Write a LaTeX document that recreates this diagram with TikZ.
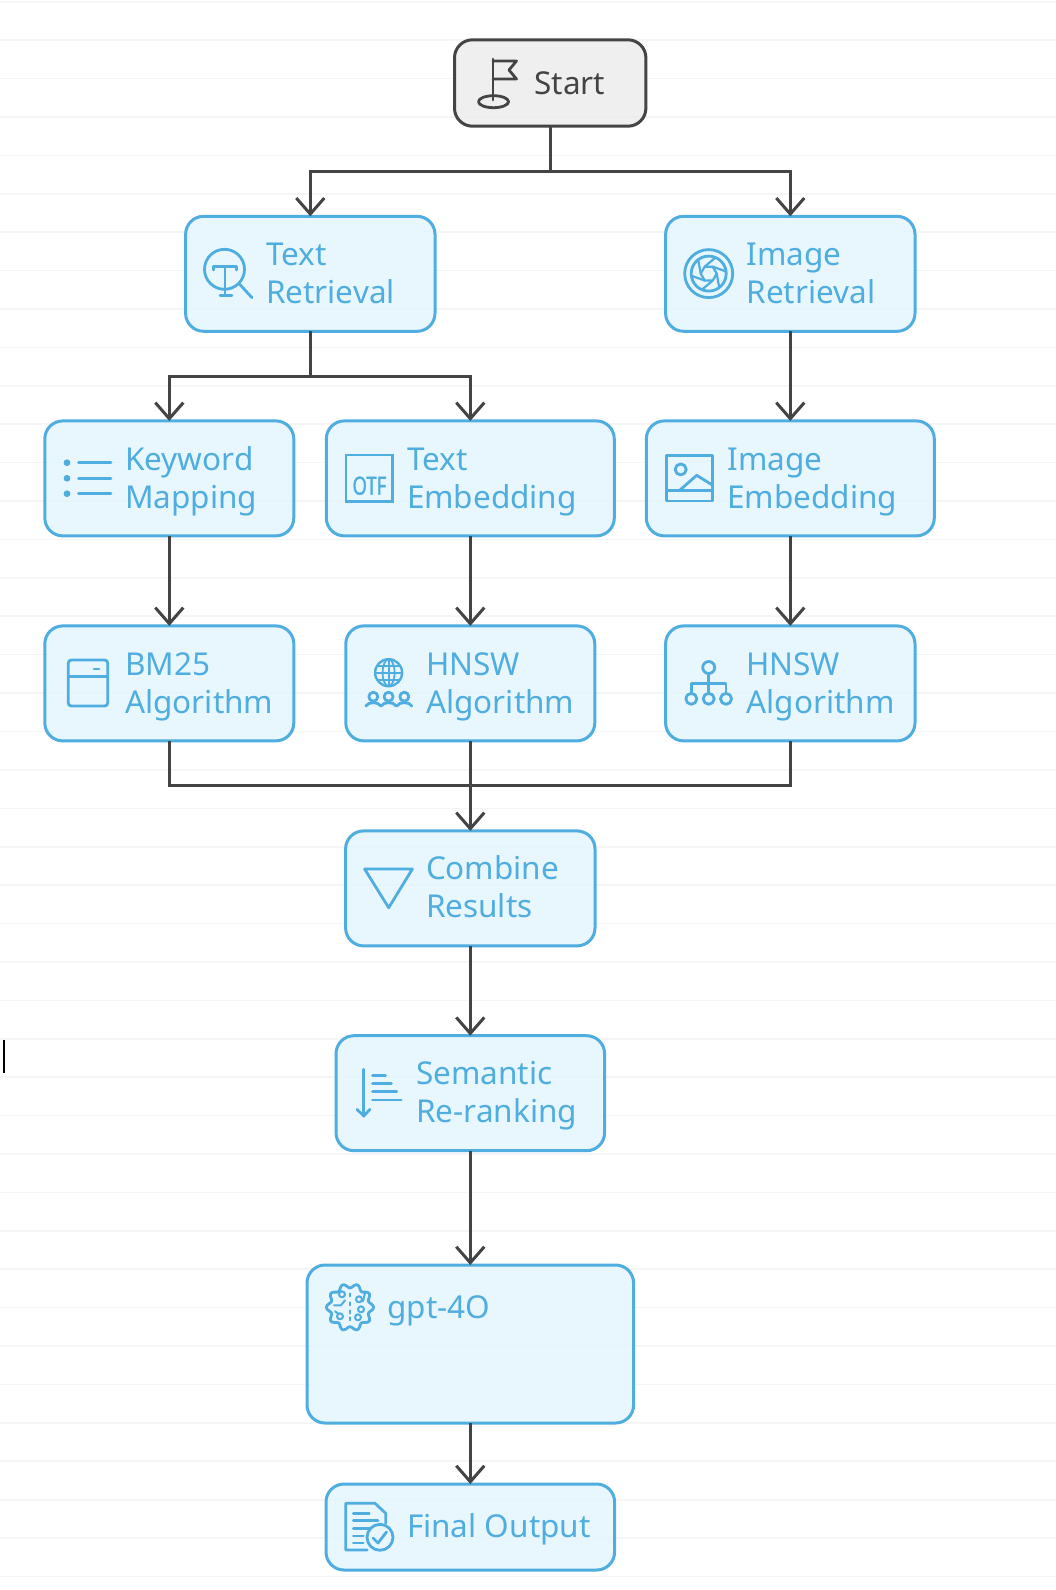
\documentclass[tikz,border=0pt]{standalone}
\usepackage{fontspec}
\setmainfont{Noto Sans}
\newfontfamily\otffont[FakeBold=1.6]{Noto Sans}
\usetikzlibrary{arrows.meta}
\definecolor{nodeblue}{HTML}{4FADE0}
\definecolor{nodefill}{HTML}{E5F6FD}
\definecolor{lineink}{HTML}{444444}
\definecolor{startfill}{HTML}{EDEDED}
\definecolor{ruleink}{HTML}{F5F5F5}
\newcommand{\twolines}[2]{\renewcommand{\arraystretch}{1}\begin{tabular}[t]{@{}l@{}}#1\\#2\end{tabular}}
\tikzset{
  box/.style={draw=nodeblue,line width=3pt,fill=nodefill,fill opacity=.88,rounded corners=18pt,inner sep=0pt,outer sep=0pt},
  startbox/.style={box,draw=lineink,fill=startfill},
  label/.style={anchor=base west,inner sep=0pt,outer sep=0pt,text=nodeblue,font=\fontsize{31.5}{38}\selectfont},
  startlabel/.style={label,text=lineink},
  plain/.style={draw=lineink,line width=3pt},
  arrowed/.style={plain,-{Straight Barb[length=16pt,width=28pt]}},
  icon/.style={draw=nodeblue,line width=2.8pt,line cap=round,line join=round},
  flagicon/.style={icon,draw=lineink},
  rule/.style={draw=ruleink,line width=1.6pt}
}
\begin{document}
\begin{tikzpicture}[x=1pt,y=-1pt]
\useasboundingbox (0,0) rectangle (1056,1590);
\fill[white] (0,0) rectangle (1056,1590);
\foreach \k in {0,...,41} \draw[rule] (0,{1.7+38.41*\k}) -- (1056,{1.7+38.41*\k});
\draw[black,line width=1.4pt] (4,1040) -- (4,1073);

% boxes
\node[startbox,minimum width=191.4pt,minimum height=86.4pt] (start) at (550.2,83) {};
\node[box,minimum width=249.4pt,minimum height=115pt] (tr) at (310.3,273.8) {};
\node[box,minimum width=249.4pt,minimum height=115pt] (ir) at (790.3,273.8) {};
\node[box,minimum width=249pt,minimum height=115pt] (km) at (169.3,478.4) {};
\node[box,minimum width=288pt,minimum height=115pt] (te) at (470.3,478.4) {};
\node[box,minimum width=288pt,minimum height=115pt] (ie) at (790.3,478.4) {};
\node[box,minimum width=249pt,minimum height=115pt] (bm) at (169.3,683.4) {};
\node[box,minimum width=249pt,minimum height=115pt] (hn) at (470.3,683.4) {};
\node[box,minimum width=249.4pt,minimum height=115pt] (hm) at (790.3,683.4) {};
\node[box,minimum width=249.4pt,minimum height=115pt] (cr) at (470.3,888.4) {};
\node[box,minimum width=268.6pt,minimum height=115pt] (sr) at (470.3,1093.2) {};
\node[box,minimum width=326.6pt,minimum height=158pt] (gp) at (470.3,1344) {};
\node[box,minimum width=288.6pt,minimum height=86pt] (fo) at (470.3,1527) {};

% labels
\node[startlabel] (startt) at (534.6,94.3) {Start};
\node[label] (trt) at (266,265.7) {\twolines{Text}{Retrieval}};
\node[label] (irt) at (746.4,265.7) {\twolines{Image}{Retrieval}};
\node[label] (kmt) at (125.2,470) {\twolines{Keyword}{Mapping}};
\node[label] (tet) at (407,470) {\twolines{Text}{Embedding}};
\node[label] (iet) at (727.4,470) {\twolines{Image}{Embedding}};
\node[label] (bmt) at (125.2,675) {\twolines{BM25}{Algorithm}};
\node[label] (hnt) at (426.2,675) {\twolines{HNSW}{Algorithm}};
\node[label] (hmt) at (746.4,675) {\twolines{HNSW}{Algorithm}};
\node[label] (crt) at (426,879.3) {\twolines{Combine}{Results}};
\node[label] (srt) at (416.2,1084.3) {\twolines{Semantic}{Re-ranking}};
\node[label] (gpt) at (387.6,1318.3) {gpt-4O};
\node[label] (fot) at (407,1537.3) {Final Output};

% connectors
\coordinate (j1) at (550.2,171);
\coordinate (j2) at (310.3,376.3);
\coordinate (j3) at (470.3,785.7);
\draw[plain] (start.south) -- (j1);
\draw[arrowed] (j1) -| (tr.north);
\draw[arrowed] (j1) -| (ir.north);
\draw[plain] (tr.south) -- (j2);
\draw[arrowed] (j2) -| (km.north);
\draw[arrowed] (j2) -| (te.north);
\draw[arrowed] (ir.south) -- (ie.north);
\draw[arrowed] (km.south) -- (bm.north);
\draw[arrowed] (te.south) -- (hn.north);
\draw[arrowed] (ie.south) -- (hm.north);
\draw[plain] (bm.south) |- (j3);
\draw[plain] (hn.south) -- (j3);
\draw[plain] (hm.south) |- (j3);
\draw[arrowed] (j3) -- (cr.north);
\draw[arrowed] (cr.south) -- (sr.north);
\draw[arrowed] (sr.south) -- (gp.north);
\draw[arrowed] (gp.south) -- (fo.north);

% flag
\draw[flagicon] (493,59) -- (493,100);
\draw[flagicon] (493,61) -- (516.5,61) -- (509,70) -- (516.5,79) -- (493,79);
\draw[flagicon] (493.5,101.7) ellipse (15pt and 6pt);
% search T
\draw[icon] (224.5,269.3) circle (20pt);
\draw[icon] (239.7,284.3) -- (252,297.7);
\draw[icon] (213.4,270) -- (213.4,266.7) -- (236.6,266.7) -- (236.6,270);
\draw[icon] (225,266.7) -- (225,295.7);
\draw[icon] (220,295.7) -- (232,295.7);
% aperture
\begin{scope}[shift={(708.7,273.6)}]
\draw[icon] (0,0) circle (24pt);
\draw[icon] (0,0) circle (17.5pt);
\foreach \a in {0,60,...,300} \draw[icon,line width=2.2pt] (\a:8) -- ({\a+60}:8) -- ({\a+60+53}:17.5);
\end{scope}
% list
\foreach \yy in {462.7,478.3,493.7} {
  \fill[nodeblue] (67,\yy) circle (3.4pt);
  \draw[icon] (78.6,\yy) -- (111,\yy);
}
% OTF
\draw[icon,line join=miter] (346,455) rectangle (392.8,501.7);
\node[inner sep=0pt,text=nodeblue,font=\fontsize{25}{25}\selectfont\otffont] (otf) at (369.4,485.7) {\scalebox{.74}[1]{OTF}};
% picture
\draw[icon] (666.7,455.3) rectangle (712.3,501);
\draw[icon] (680.7,469.4) circle (5.5pt);
\draw[icon] (666.7,490.4) -- (712.3,490.4);
\draw[icon] (680,490) -- (696.7,475.3) -- (712,484.8);
% drawer
\draw[icon,rounded corners=3pt] (68.3,660) rectangle (107.7,706);
\draw[icon] (68.3,676.7) -- (107.7,676.7);
\draw[icon] (94,669) -- (99,669);
% globe and people
\begin{scope}[shift={(388.6,672.7)}]
\draw[icon,line width=2.4pt] (0,0) circle (13.5pt);
\draw[icon,line width=1.8pt] (0,0) ellipse (6pt and 13.5pt);
\draw[icon,line width=1.8pt] (0,-13.5) -- (0,13.5);
\draw[icon,line width=1.8pt] (-13.5,0) -- (13.5,0);
\draw[icon,line width=1.8pt] (-11.5,-7) -- (11.5,-7);
\draw[icon,line width=1.8pt] (-11.5,7) -- (11.5,7);
\end{scope}
\foreach \xx in {373.3,388.6,404.3} {
  \draw[icon] (\xx,696.7) circle (4.5pt);
  \draw[icon] (\xx-7.5,706) .. controls (\xx-5,701.5) and (\xx+5,701.5) .. (\xx+7.5,706);
}
% hierarchy
\draw[icon] (708.7,667.5) circle (6pt);
\draw[icon] (708.7,673.5) -- (708.7,693);
\draw[icon] (691.3,693) -- (691.3,683.3) -- (726,683.3) -- (726,693);
\foreach \xx in {691.3,708.7,726} \draw[icon] (\xx,698.8) circle (5.5pt);
% triangle
\draw[icon] (364.6,869) -- (412.4,869) -- (388.7,907.7) -- cycle;
% sort
\draw[icon] (363.8,1069.3) -- (363.8,1116);
\draw[icon] (357,1109.3) -- (363.8,1116) -- (370,1109.3);
\draw[icon] (372.5,1075.7) -- (385.5,1075.7);
\draw[icon] (372.5,1083.7) -- (391.5,1083.7);
\draw[icon] (372.5,1091.7) -- (396.6,1091.7);
\draw[icon] (372.5,1100) -- (401.3,1100);
% brain
\begin{scope}[shift={(350,1307.3)}]
\draw[icon] plot[domain=0:355,samples=72,smooth cycle] (\x:{21.5+2.2*cos(10*\x)});
\foreach \p/\q in {-8/-13,9/-8,11/2,-10/9,8/10} \draw[icon,line width=2pt] (\p,\q) circle (3pt);
\draw[icon,line width=2pt] (-16,-2) -- (-9,-2) -- (-5,-7);
\draw[icon,line width=2pt] (0,-14) -- (0,-11);
\draw[icon,line width=2pt] (0,-5) -- (0,-2);
\draw[icon,line width=2pt] (0,3) -- (0,6);
\draw[icon,line width=2pt] (0,10) -- (0,13);
\draw[icon,line width=2pt] (15,-14) -- (13,-6);
\draw[icon,line width=2pt] (-15,4) -- (-12,6);
\end{scope}
% document
\draw[icon] (367.3,1550) -- (345.7,1550) -- (345.7,1503.3) -- (375,1503.3) -- (385.7,1513.3) -- (385.7,1523.3);
\draw[icon] (353.3,1513.3) -- (369.3,1513.3);
\draw[icon] (353.3,1520.7) -- (378,1520.7);
\draw[icon] (353.3,1528.3) -- (370,1528.3);
\draw[icon] (353.3,1536) -- (363.3,1536);
\draw[icon] (353.3,1543) -- (363.3,1543);
\draw[icon] (380,1537.3) circle (13pt);
\draw[icon] (373,1538) -- (378,1543) -- (386.5,1532);
\end{tikzpicture}
\end{document}
